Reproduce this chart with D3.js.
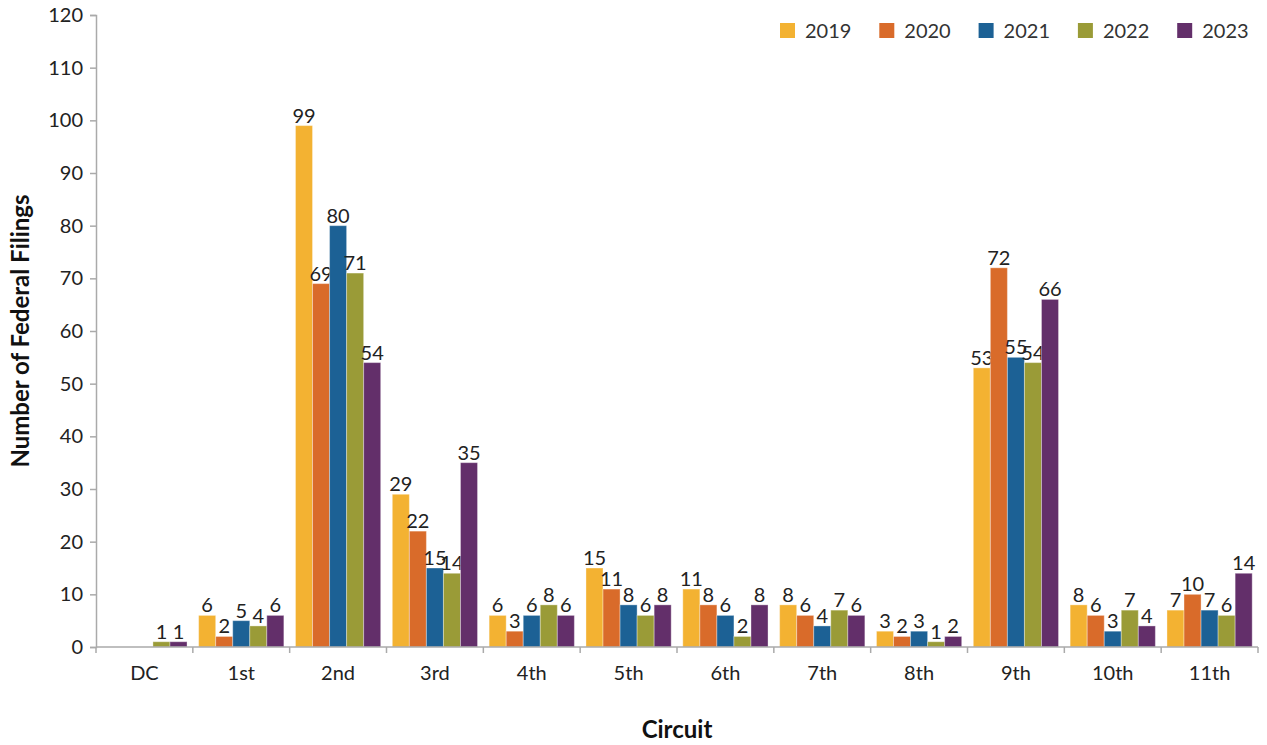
<!DOCTYPE html>
<html><head><meta charset="utf-8">
<script src="https://cdn.jsdelivr.net/npm/d3@7"></script>
<style>body{margin:0;background:#fff;font-family:Lato,sans-serif}</style>
</head><body><svg id="c" width="1267" height="745"></svg>
<script>
const categories = ["DC","1st","2nd","3rd","4th","5th","6th","7th","8th","9th","10th","11th"];
const years = ["2019","2020","2021","2022","2023"];
const v2019 = [0,6,99,29,6,15,11,8,3,53,8,7];
const v2020 = [0,2,69,22,3,11,8,6,2,72,6,10];
const v2021 = [0,5,80,15,6,8,6,4,3,55,3,7];
const v2022 = [1,4,71,14,8,6,2,7,1,54,7,6];
const v2023 = [1,6,54,35,6,8,8,6,2,66,4,14];
const yTicks = [0,10,20,30,40,50,60,70,80,90,100,110,120];
const colors = ["#F3B232","#D96B2A","#1C6195","#9A9B37","#632F6A"];
const series = [v2019,v2020,v2021,v2022,v2023];

const svg = d3.select("#c");
const L = 96, R = 1258, T = 15, B = 647;
const x = d3.scaleBand().domain(categories).range([L,R]).paddingInner(0.12).paddingOuter(0.06);
const x1 = d3.scaleBand().domain(years).range([0,x.bandwidth()]);
const y = d3.scaleLinear().domain([0,120]).range([B,T]);
const axisCol = "#aaa";
const FS = 20;

// y axis
const ya = svg.append("g").attr("transform",`translate(${L},0)`)
  .call(d3.axisLeft(y).tickValues(yTicks).tickSize(6).tickPadding(7));
ya.select(".domain").attr("stroke",axisCol).attr("stroke-width",1.5);
ya.selectAll(".tick line").attr("stroke",axisCol).attr("stroke-width",1.5);
ya.selectAll(".tick text").attr("font-family","Lato").attr("font-size",FS).attr("fill","#222");

// bars
categories.forEach((c,ci)=>{
  const g = svg.append("g").attr("transform",`translate(${x(c)},0)`);
  years.forEach((yr,si)=>{
    const v = series[si][ci];
    if (v<=0) return;
    g.append("rect").attr("x",x1(yr)).attr("width",x1.bandwidth())
      .attr("y",y(v)).attr("height",y(0)-y(v))
      .attr("fill",colors[si]).attr("stroke","rgba(255,255,255,0.35)").attr("stroke-width",1);
    g.append("text").attr("x",x1(yr)+x1.bandwidth()/2).attr("y",y(v)-3)
      .attr("text-anchor","middle").attr("font-family","Lato").attr("font-size",FS)
      .attr("fill","#222").text(v);
  });
});

// x axis
const xa = svg.append("g").attr("transform",`translate(0,${B})`);
xa.append("line").attr("x1",L).attr("x2",R).attr("stroke",axisCol).attr("stroke-width",1.5);
const tickPos = categories.map(c=>x(c)-x.step()*x.paddingInner()/2).concat([R]);
xa.selectAll("line.t").data(tickPos).enter().append("line")
  .attr("x1",d=>d).attr("x2",d=>d).attr("y1",0).attr("y2",6).attr("stroke",axisCol).attr("stroke-width",1.5);
xa.selectAll("text").data(categories).enter().append("text")
  .attr("x",d=>x(d)+x.bandwidth()/2).attr("y",33)
  .attr("text-anchor","middle").attr("font-family","Lato").attr("font-size",FS).attr("fill","#222").text(d=>d);

// axis titles
svg.append("text").attr("transform","translate(29,331) rotate(-90)").attr("text-anchor","middle")
  .attr("font-family","Lato").attr("font-weight","bold").attr("font-size",24).attr("fill","#111").text("Number of Federal Filings");
svg.append("text").attr("x",677).attr("y",738).attr("text-anchor","middle")
  .attr("font-family","Lato").attr("font-weight","bold").attr("font-size",24).attr("fill","#111").text("Circuit");

// legend
const lg = svg.append("g");
years.forEach((yr,i)=>{
  const lx = 780 + i*99.3;
  lg.append("rect").attr("x",lx).attr("y",23).attr("width",15).attr("height",15).attr("fill",colors[i]);
  lg.append("text").attr("x",lx+25).attr("y",38).attr("font-family","Lato").attr("font-size",FS).attr("fill","#333").text(yr);
});
</script></body></html>
